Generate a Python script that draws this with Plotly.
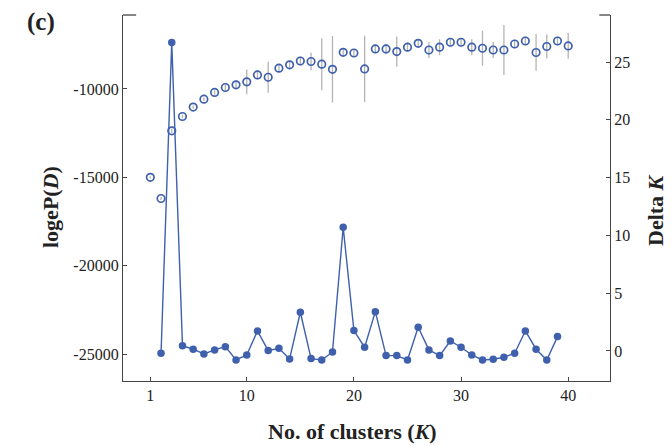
import plotly.graph_objects as go

K = list(range(1, 41))
logP = [-15000, -16200, -12370, -11560, -11030, -10580, -10200, -9920, -9770, -9600,
        -9210, -9340, -8830, -8640, -8420, -8450, -8600, -8890, -7930, -7970,
        -8870, -7740, -7740, -7890, -7640, -7420, -7800, -7640, -7360, -7360,
        -7640, -7700, -7800, -7800, -7460, -7290, -7940, -7600, -7290, -7570]
logP_err = [60, 80, 120, 100, 90, 100, 120, 150, 250, 700,
            250, 880, 200, 200, 250, 500, 1470, 1880, 200, 200,
            1880, 250, 300, 850, 250, 200, 450, 450, 200, 200,
            450, 990, 450, 1410, 250, 250, 1040, 680, 250, 730]

K_delta = list(range(2, 40))
deltaK = [-0.2, 26.7, 0.46, 0.15, -0.26, 0.09, 0.37, -0.78, -0.35, 1.73,
          0.03, 0.23, -0.69, 3.35, -0.66, -0.78, -0.09, 10.7, 1.76, 0.32,
          3.4, -0.4, -0.4, -0.78, 2.05, 0.09, -0.4, 0.86, 0.32, -0.35,
          -0.78, -0.72, -0.55, -0.2, 1.73, 0.15, -0.78, 1.24]

x_ticks = [1, 10, 20, 30, 40]
y_ticks = [-10000, -15000, -20000, -25000]
y2_ticks = [0, 5, 10, 15, 20, 25]

blue = "#3f60ad"
font = "Liberation Serif, Times New Roman, serif"

# page body has an 8px margin; compensate so the plot sits where the reference does
OFF = 8
W, H = 672 - OFF, 446 - OFF
ML, MR, MT, MB = 123 - OFF, 62, 15 - OFF, 65

fig = go.Figure()
fig.add_trace(go.Scatter(
    x=K, y=logP, mode="markers",
    marker=dict(symbol="circle-open", size=7.5, color=blue, line=dict(width=1.7, color=blue)),
    error_y=dict(type="data", array=logP_err, color="#b3b3b3", thickness=1.3, width=0),
    showlegend=False))
fig.add_trace(go.Scatter(
    x=K_delta, y=deltaK, mode="lines+markers", yaxis="y2",
    line=dict(color=blue, width=1.4),
    marker=dict(symbol="circle", size=7.5, color=blue),
    showlegend=False))

tick_font = dict(family=font, size=16, color="#222")
axis_common = dict(showgrid=False, zeroline=False, showline=True, linecolor="#444",
                   linewidth=1.3, ticks="inside", ticklen=4, tickcolor="#444",
                   tickfont=tick_font)

fig.update_layout(
    width=W, height=H,
    font=dict(family=font, size=16, color="#222"),
    margin=dict(l=ML, r=MR, t=MT, b=MB, autoexpand=False),
    paper_bgcolor="white", plot_bgcolor="white",
    xaxis=dict(range=[-1.55, 43.9], tickvals=x_ticks, **axis_common),
    yaxis=dict(range=[-26525, -5819], tickvals=y_ticks, ticktext=[str(v) for v in y_ticks],
               **axis_common),
    yaxis2=dict(range=[-2.6, 29.07], tickvals=y2_ticks, overlaying="y", side="right",
                **axis_common),
    shapes=[
        dict(type="line", xref="paper", yref="paper", x0=0, x1=0.027, y0=1, y1=1,
             line=dict(color="#444", width=1.3)),
        dict(type="line", xref="paper", yref="paper", x0=0.978, x1=1, y0=1, y1=1,
             line=dict(color="#444", width=1.3)),
    ],
)

pw, ph = W - ML - MR, H - MT - MB
def ann(text, px, py, size, angle=0):
    # px, py: target pixel position in the 672x446 window
    fx = px - OFF - ML
    fy = py - OFF - MT
    fig.add_annotation(text=text, xref="paper", yref="paper",
                       x=fx / pw, y=1 - fy / ph, xanchor="center", yanchor="middle",
                       showarrow=False, textangle=angle,
                       font=dict(family=font, size=size, color="#222"))

ann("<b>(c)</b>", 41, 22, 25)
ann("<b>logeP(<i>D</i>)</b>", 50, 207, 22, -90)
ann("<b>Delta <i>K</i></b>", 655, 210, 22, -90)
ann("<b>No. of clusters (<i>K</i>)</b>", 352, 431, 22)

fig.write_html("out.html")
